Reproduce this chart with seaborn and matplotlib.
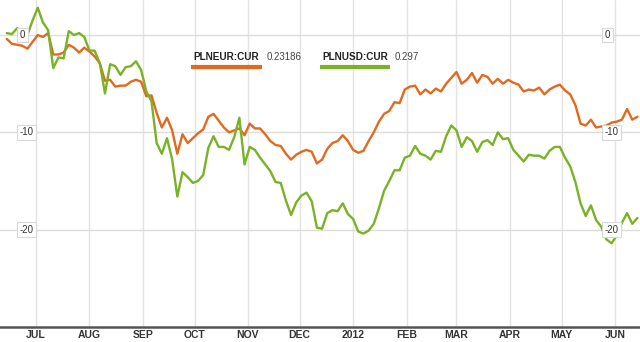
import numpy as np
import pandas as pd
import matplotlib
matplotlib.use("Agg")
import matplotlib.pyplot as plt
import matplotlib.dates as mdates
import seaborn as sns

# ---- data (percent change, sampled every 3 days from 2011-06-14) ----
start_date = "2011-06-14"
step_days = 3

plneur = [-0.4, -0.9, -1.0, -1.1, -1.4, -0.7, 0.0, -0.2, 0.2, -2.0,
          -2.0, -1.8, -1.0, -1.3, -1.8, -1.3, -1.7, -2.2, -2.9, -4.7,
          -4.6, -5.3, -5.2, -5.2, -4.8, -4.6, -4.8, -6.3, -6.2, -8.0,
          -9.5, -8.5, -9.8, -12.2, -10.2, -11.1, -10.6, -10.1, -9.7, -8.4,
          -8.1, -8.8, -9.5, -10.0, -9.8, -9.6, -10.3, -9.1, -9.6, -9.6,
          -10.2, -10.9, -11.3, -11.4, -12.2, -12.8, -12.3, -12.0, -11.8, -12.0,
          -13.2, -12.8, -11.7, -11.1, -10.9, -10.3, -10.9, -11.8, -12.1, -11.9,
          -10.9, -10.0, -8.9, -8.1, -7.8, -6.9, -7.0, -5.6, -5.3, -5.2,
          -6.1, -5.6, -6.0, -5.5, -5.8, -5.0, -4.4, -3.8, -5.0, -4.6,
          -3.9, -4.9, -4.1, -4.3, -5.0, -4.5, -5.0, -4.6, -4.9, -5.1,
          -5.8, -5.6, -5.7, -5.4, -6.1, -5.6, -5.3, -5.1, -5.7, -6.1,
          -7.2, -9.1, -9.3, -8.7, -9.5, -9.4, -9.3, -9.0, -8.9, -8.7,
          -7.6, -8.7, -8.4]

plnusd = [0.2, 0.1, 0.7, 0.4, 0.0, 1.5, 2.8, 1.3, 0.5, -3.4,
          -2.3, -2.4, 0.4, 0.0, 0.2, -0.2, -1.6, -1.6, -2.9, -6.0,
          -3.0, -3.2, -4.1, -3.3, -3.2, -2.7, -3.6, -5.8, -6.8, -11.1,
          -12.2, -10.6, -12.8, -16.6, -14.1, -14.6, -15.2, -15.0, -14.4, -11.6,
          -10.4, -11.5, -11.5, -11.8, -10.5, -8.5, -13.3, -11.5, -11.8, -12.6,
          -13.3, -14.0, -15.1, -15.2, -17.0, -18.5, -17.2, -16.5, -16.2, -17.1,
          -19.8, -19.9, -18.3, -18.0, -18.1, -17.3, -18.4, -18.9, -20.2, -20.4,
          -20.1, -19.4, -17.8, -16.0, -15.0, -13.9, -13.9, -12.6, -12.4, -11.4,
          -12.2, -12.4, -12.8, -11.9, -12.0, -10.4, -9.3, -9.8, -11.5, -10.5,
          -10.9, -12.0, -11.0, -10.8, -11.3, -10.0, -10.7, -10.6, -11.8, -12.4,
          -13.0, -12.3, -12.4, -12.4, -12.7, -11.9, -11.5, -11.5, -12.6, -13.5,
          -15.1, -17.3, -18.6, -17.5, -19.0, -19.7, -21.0, -21.4, -20.6, -19.3,
          -18.3, -19.4, -18.8]

series_names = ["PLNEUR:CUR", "PLNUSD:CUR"]
series_last = ["0.23186", "0.297"]
month_labels = ["JUL", "AUG", "SEP", "OCT", "NOV", "DEC", "2012",
                "FEB", "MAR", "APR", "MAY", "JUN"]
y_ticks = [0, -10, -20]

# ---- build table ----
dates = pd.date_range(start_date, periods=len(plneur), freq=f"{step_days}D")
df = pd.concat([
    pd.DataFrame({"date": dates, "value": plneur, "series": series_names[0]}),
    pd.DataFrame({"date": dates, "value": plnusd, "series": series_names[1]}),
])

ORANGE = "#E2691E"
GREEN = "#7AB226"
TXT = "#333333"

sns.set_theme(style="white")
plt.rcParams["font.family"] = ["Liberation Sans", "DejaVu Sans"]

fig = plt.figure(figsize=(6.4, 3.42), dpi=100)
ax = fig.add_axes([0.0, 0.044, 1.0, 0.956])

sns.lineplot(data=df, x="date", y="value", hue="series",
             palette={series_names[0]: ORANGE, series_names[1]: GREEN},
             linewidth=1.7, ax=ax, legend=False, zorder=3)

ax.set_xlim(pd.Timestamp("2011-06-10 02:00"), pd.Timestamp("2012-06-15 12:00"))
ax.set_ylim(-30.0, 3.6)

# gridlines
month_starts = pd.date_range("2011-07-01", periods=len(month_labels), freq="MS")
for d in month_starts:
    ax.axvline(d, color="#e3e3e3", lw=1.0, zorder=1)
for v in y_ticks:
    ax.axhline(v, color="#dcdcdc", lw=1.0, zorder=1)

# month labels
ax.set_xticks(month_starts)
ax.set_xticklabels(month_labels, fontsize=7.5, fontweight="bold", color=TXT)
ax.tick_params(axis="x", length=0, pad=2)
ax.set_yticks([])
ax.set_xlabel("")
ax.set_ylabel("")

for s in ["top", "left", "right"]:
    ax.spines[s].set_visible(False)
ax.spines["bottom"].set_color("#555555")
ax.spines["bottom"].set_linewidth(1.8)

# y labels in little boxes, both sides
box = dict(boxstyle="square,pad=0.25", fc="white", ec="#d8d8d8", lw=0.8)
for v in y_ticks:
    for xf in (0.031, 0.945):
        ax.text(xf, v, f"{v}", transform=ax.get_yaxis_transform(),
                fontsize=7, color=TXT, ha="left", va="center",
                bbox=box, zorder=5)

# legend text with underline bars
leg_y = 0.826
for (x0, name, val, col, w) in [(0.302, series_names[0], series_last[0], ORANGE, 0.108),
                                (0.503, series_names[1], series_last[1], GREEN, 0.107)]:
    t = ax.text(x0, leg_y, name, transform=ax.transAxes, fontsize=7.2,
                fontweight="bold", color="#222222", ha="left", va="center", zorder=6)
    ax.text(x0 + w + 0.006, leg_y, val, transform=ax.transAxes, fontsize=7,
            color="#444444", ha="left", va="center", zorder=6)
    ax.plot([x0 - 0.003, x0 + w], [leg_y - 0.03, leg_y - 0.03], transform=ax.transAxes,
            color=col, lw=3, solid_capstyle="butt", zorder=6)

fig.savefig("out.png", dpi=100)
